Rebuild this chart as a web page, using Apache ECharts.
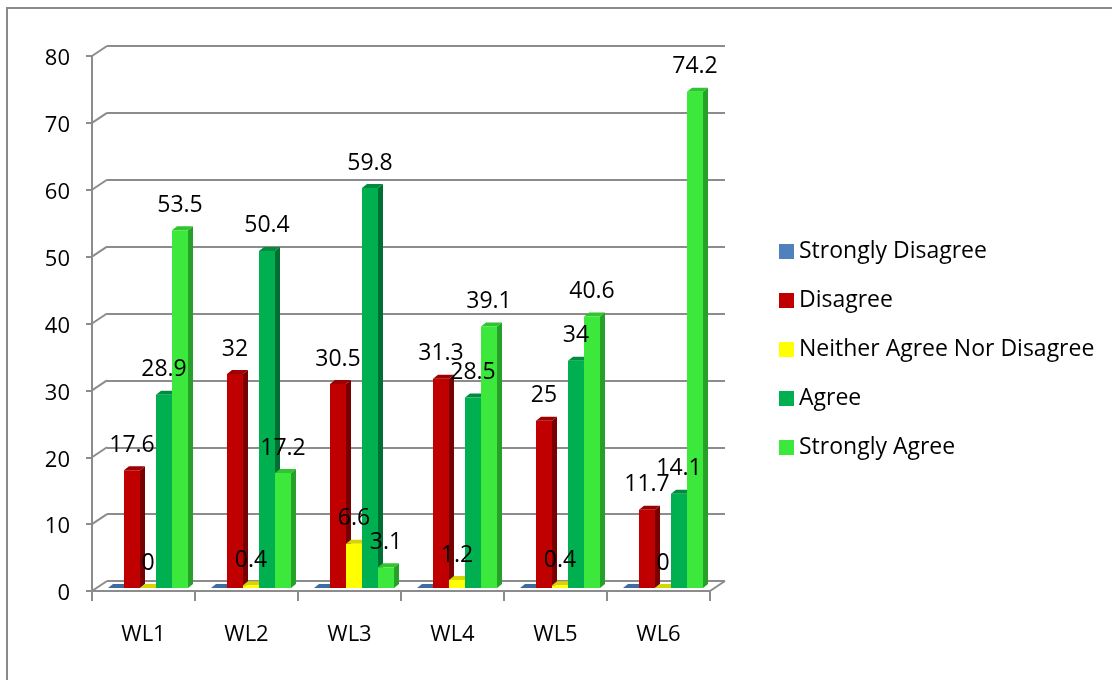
<!DOCTYPE html>
<html>
<head>
<meta charset="utf-8">
<script src="https://cdn.jsdelivr.net/npm/echarts@6/dist/echarts.min.js"></script>
<style>
  html, body { margin: 0; padding: 0; background: #ffffff; }
  #chart { width: 1112px; height: 680px; }
</style>
</head>
<body>
<div id="chart"></div>
<script>
// Survey responses per item (percent)
const categories = ['WL1', 'WL2', 'WL3', 'WL4', 'WL5', 'WL6'];
const stronglyDisagree = [0, 0, 0, 0, 0, 0];
const disagree = [17.6, 32, 30.5, 31.3, 25, 11.7];
const neitherAgreeNorDisagree = [0, 0.4, 6.6, 1.2, 0.4, 0];
const agree = [28.9, 50.4, 59.8, 28.5, 34, 14.1];
const stronglyAgree = [53.5, 17.2, 3.1, 39.1, 40.6, 74.2];
const seriesNames = ['Strongly Disagree', 'Disagree', 'Neither Agree Nor Disagree', 'Agree', 'Strongly Agree'];
const seriesValues = [stronglyDisagree, disagree, neitherAgreeNorDisagree, agree, stronglyAgree];
const showValueLabels = [false, true, true, true, true];
const yTickValues = [0, 10, 20, 30, 40, 50, 60, 70, 80];

// face colours: front, right side, top
const palettes = [
  { front: '#4f81bd', side: '#385d8a', top: '#3d6ca3' },
  { front: '#c00000', side: '#780000', top: '#9c0000' },
  { front: '#ffff00', side: '#b5b500', top: '#d8d400' },
  { front: '#00b050', side: '#006f32', top: '#008c3f' },
  { front: '#3de83d', side: '#27a02a', top: '#30c430' }
];

const FONT = '"Open Sans", "Noto Sans", sans-serif';
const AXIS_FONT_SIZE = 22;
const TEXT_FONT_SIZE = 23;

// wall / floor projection
const PLOT = { left: 92, right: 710, top: 56, bottom: 591 };
const WALL_DX = 15, WALL_DY = -10;
const BAR_DX = 5, BAR_DY = 4;
const BAR_SHIFT_X = 4.5, BAR_SHIFT_Y = -3;
const CLUSTER_FRACTION = 0.777;

const W = 1112, H = 680;

function gridFrom(dx, dy) {
  return {
    left: PLOT.left + dx,
    right: W - PLOT.right - dx,
    top: PLOT.top + dy,
    bottom: H - PLOT.bottom - dy,
    containLabel: false
  };
}

function barRenderer(k, pal, withLabel) {
  const n = seriesNames.length;
  return function (params, api) {
    const c = api.value(0);
    const v = api.value(1);
    const base = api.coord([c, 0]);
    const top = api.coord([c, v]);
    const band = api.size([1, 0])[0];
    const w = band * CLUSTER_FRACTION / n;
    const x0 = base[0] - (n / 2) * w + k * w;
    const x1 = x0 + w;
    const yb = base[1];
    const yt = top[1];
    const children = [
      {
        type: 'polygon',
        shape: { points: [[x1, yt], [x1 + BAR_DX, yt - BAR_DY], [x1 + BAR_DX, yb - BAR_DY], [x1, yb]] },
        style: { fill: pal.side },
        z2: k * 10 + 1
      },
      {
        type: 'polygon',
        shape: { points: [[x0, yt], [x0 + BAR_DX, yt - BAR_DY], [x1 + BAR_DX, yt - BAR_DY], [x1, yt]] },
        style: { fill: pal.top },
        z2: k * 10 + 2
      },
      {
        type: 'rect',
        shape: { x: x0, y: yt, width: w, height: yb - yt },
        style: { fill: pal.front },
        z2: k * 10 + 3
      }
    ];
    if (withLabel) {
      children.push({
        type: 'text',
        x: (x0 + x1) / 2,
        y: yt - 25,
        style: {
          text: String(v),
          fill: '#000000',
          font: TEXT_FONT_SIZE + 'px ' + FONT,
          align: 'center',
          verticalAlign: 'middle'
        },
        z2: 1000
      });
    }
    return { type: 'group', children: children };
  };
}

// diagonal connectors from the front axis ticks to the back wall, plus the floor's right edge
function connectorRenderer(params, api) {
  const v = api.value(1);
  const p = api.coord([0, v]);
  const band = api.size([1, 0])[0];
  const xl = p[0] - band / 2;
  const lineStyle = { stroke: '#8c8c8c', lineWidth: 2 };
  const children = [{
    type: 'line',
    shape: { x1: xl, y1: p[1], x2: xl + WALL_DX, y2: p[1] + WALL_DY },
    style: lineStyle
  }];
  if (v === 0) {
    const pr = api.coord([categories.length - 1, v]);
    const xr = pr[0] + band / 2;
    children.push({
      type: 'line',
      shape: { x1: xr, y1: pr[1], x2: xr + WALL_DX, y2: pr[1] + WALL_DY },
      style: lineStyle
    });
  }
  return { type: 'group', children: children };
}

const axisGray = '#8c8c8c';

const series = seriesNames.map(function (name, k) {
  return {
    name: name,
    type: 'custom',
    xAxisIndex: 2,
    yAxisIndex: 2,
    z: 3,
    itemStyle: { color: palettes[k].front },
    renderItem: barRenderer(k, palettes[k], showValueLabels[k]),
    data: seriesValues[k].map(function (v, i) { return [i, v]; }),
    silent: true
  };
});

series.push({
  name: 'connectors',
  type: 'custom',
  xAxisIndex: 0,
  yAxisIndex: 0,
  z: 1,
  silent: true,
  renderItem: connectorRenderer,
  data: yTickValues.map(function (v) { return [0, v]; })
});

const option = {
  backgroundColor: '#ffffff',
  animation: false,
  textStyle: { fontFamily: FONT },
  graphic: [{
    type: 'rect',
    shape: { x: 7, y: 8, width: W + 20, height: H + 20 },
    style: { fill: 'none', stroke: '#8a8a8a', lineWidth: 2 },
    silent: true
  }],
  grid: [
    gridFrom(0, 0),                        // front axes
    gridFrom(WALL_DX, WALL_DY),            // back wall
    gridFrom(BAR_SHIFT_X, BAR_SHIFT_Y)     // bars
  ],
  xAxis: [
    {
      gridIndex: 0,
      type: 'category',
      data: categories,
      axisLine: { show: true, lineStyle: { color: axisGray, width: 2 } },
      axisTick: { show: true, length: 10, inside: false, lineStyle: { color: axisGray, width: 2 } },
      axisLabel: { color: '#000000', fontSize: AXIS_FONT_SIZE, fontFamily: FONT, margin: 33 },
      splitLine: { show: false }
    },
    {
      gridIndex: 1,
      type: 'category',
      data: categories,
      show: false
    },
    {
      gridIndex: 2,
      type: 'category',
      data: categories,
      show: false
    }
  ],
  yAxis: [
    {
      gridIndex: 0,
      type: 'value',
      min: 0, max: 80, interval: 10,
      axisLine: { show: true, lineStyle: { color: axisGray, width: 2 } },
      axisTick: { show: true, length: 6, inside: false, lineStyle: { color: axisGray, width: 2 } },
      axisLabel: {
        color: '#000000', fontSize: AXIS_FONT_SIZE, fontFamily: FONT, margin: 22,
        verticalAlign: 'top', lineHeight: 6
      },
      splitLine: { show: false }
    },
    {
      gridIndex: 1,
      type: 'value',
      min: 0, max: 80, interval: 10,
      axisLine: { show: false },
      axisTick: { show: false },
      axisLabel: { show: false },
      splitLine: { show: true, lineStyle: { color: axisGray, width: 2 } }
    },
    {
      gridIndex: 2,
      type: 'value',
      min: 0, max: 80, interval: 10,
      show: false,
      splitLine: { show: false }
    }
  ],
  legend: {
    orient: 'vertical',
    left: 774,
    top: 235,
    icon: 'rect',
    itemWidth: 15,
    itemHeight: 15,
    itemGap: 26,
    data: seriesNames,
    textStyle: { color: '#000000', fontSize: TEXT_FONT_SIZE, fontFamily: FONT, lineHeight: 22 }
  },
  series: series
};

const chart = echarts.init(document.getElementById('chart'), null, { renderer: 'canvas' });
chart.setOption(option);
</script>
</body>
</html>
